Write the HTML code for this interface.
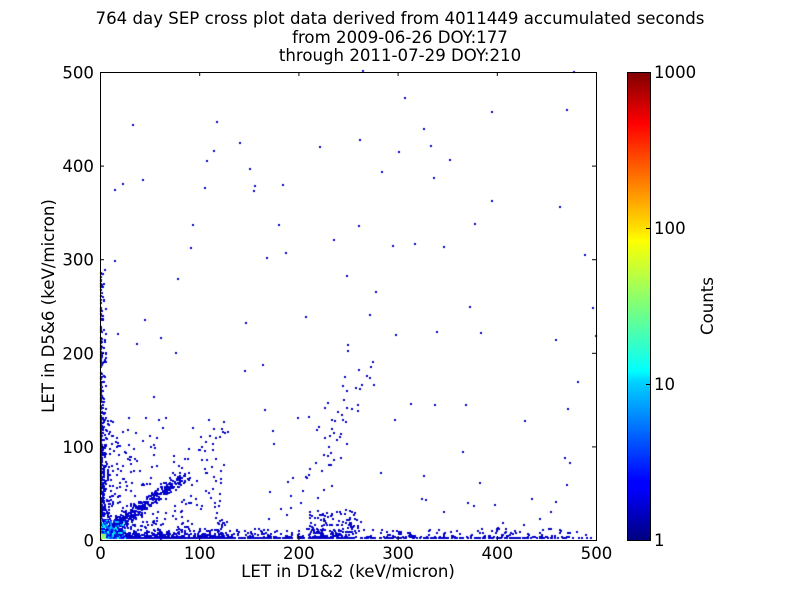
<!DOCTYPE html>
<html><head><meta charset="utf-8"><style>
body{margin:0;background:#fff;}
#w{position:relative;width:800px;height:600px;font-family:"DejaVu Sans","Liberation Sans",sans-serif;}
canvas{position:absolute;left:0;top:0;}
svg{position:absolute;left:0;top:0;}
</style></head><body><div id="w">
<canvas id="c" width="800" height="600"></canvas>
<svg width="800" height="600" xmlns="http://www.w3.org/2000/svg" font-family="DejaVu Sans, Liberation Sans, sans-serif">
<defs><linearGradient id="jet" x1="0" y1="1" x2="0" y2="0">
<stop offset="0" stop-color="#00007f"/><stop offset="0.11" stop-color="#0000ff"/><stop offset="0.125" stop-color="#0000ff"/>
<stop offset="0.34" stop-color="#00d4ff"/><stop offset="0.36" stop-color="#0ff"/><stop offset="0.5" stop-color="#7dff7a"/>
<stop offset="0.64" stop-color="#ff0"/><stop offset="0.66" stop-color="#ffe600"/><stop offset="0.89" stop-color="#ff0000"/><stop offset="1" stop-color="#7f0000"/></linearGradient></defs>
<g font-size="16.6" text-anchor="middle" fill="#000">
<text x="400" y="24">764 day SEP cross plot data derived from 4011449 accumulated seconds</text>
<text x="400" y="43">from 2009-06-26 DOY:177</text>
<text x="400" y="61">through 2011-07-29 DOY:210</text>
<text x="348" y="577">LET in D1&amp;2 (keV/micron)</text>
<text transform="translate(54,306) rotate(-90)">LET in D5&amp;6 (keV/micron)</text>
<text transform="translate(713,306) rotate(-90)">Counts</text>
</g>
<rect x="100.5" y="72.5" width="496" height="468" fill="none" stroke="#000"/>
<g stroke="#000" id="ticks"></g>
<g font-size="16.6" fill="#000" id="lbl"></g>
<rect x="627" y="72" width="23" height="468" fill="url(#jet)"/>
<rect x="627.5" y="72.5" width="23" height="468" fill="none" stroke="#000"/>
<g stroke="#000">
<line x1="650" y1="72.5" x2="646" y2="72.5"/><line x1="650" y1="228.5" x2="646" y2="228.5"/><line x1="650" y1="384.5" x2="646" y2="384.5"/><line x1="650" y1="540.5" x2="646" y2="540.5"/>
</g>
<g font-size="16.6" fill="#000">
<text x="654" y="78">1000</text><text x="654" y="234">100</text><text x="654" y="390">10</text><text x="654" y="546">1</text>
</g>
</svg>
</div>
<script>
var t=document.getElementById('ticks'),l=document.getElementById('lbl'),ns='http://www.w3.org/2000/svg';
function el(p,n,a,tx){var e=document.createElementNS(ns,n);for(var k in a)e.setAttribute(k,a[k]);if(tx)e.textContent=tx;p.appendChild(e);}
for(var i=0;i<=5;i++){var x=100.5+i*99.2;el(t,'line',{x1:x,y1:540,x2:x,y2:536});el(t,'line',{x1:x,y1:72,x2:x,y2:76});
el(l,'text',{x:x,y:559,'text-anchor':'middle'},String(i*100));
var y=540.5-i*93.6;el(t,'line',{x1:100,y1:y,x2:104,y2:y});el(t,'line',{x1:596,y1:y,x2:592,y2:y});
el(l,'text',{x:94,y:y+6,'text-anchor':'end'},String(i*100));}
var c=document.getElementById('c').getContext('2d');var s=12345;
function r(){s=(s*16807)%2147483647;return s/2147483647;}
function px(v){return 100+v*0.992;}function py(v){return 540-v*0.936;}
function dot(x,y,col){if(x<0||y<0||x>500||y>500)return;c.fillStyle=col||'#0000c8';c.fillRect(Math.floor(px(x)),Math.floor(py(y))-2,2,2);}
var i;
for(i=0;i<1200;i++){dot(Math.pow(r(),3)*490,Math.pow(r(),4)*10);}
for(i=0;i<500;i++){dot(Math.pow(r(),3)*6,Math.pow(r(),3)*290);}
for(i=0;i<350;i++){var a=Math.pow(r(),1.3)*75+10;dot(a+(r()-0.5)*12,a*0.8+(r()-0.5)*10);}
for(i=0;i<900;i++){dot(Math.pow(r(),3)*130,Math.pow(r(),3.5)*130);}
for(i=0;i<50;i++){var a=r()*60+210;dot(a+(r()-0.5)*30,(a-210)*2.5+(r()-0.5)*40+40);}
for(i=0;i<140;i++){dot(r()*500,Math.pow(r(),1.8)*500);}
for(i=0;i<150;i++){dot(210+r()*50,Math.pow(r(),2)*30);}
var cols=['#00ffff','#00c8ff','#0080ff','#0040ff','#0000ff'];
for(i=0;i<200;i++){dot(Math.pow(r(),2)*25,Math.pow(r(),2)*20,cols[Math.floor(r()*5)]);}
for(i=0;i<25;i++){dot(r()*5,r()*4,r()<0.3?'#ffff00':'#80ff80');}
</script>
</body></html>
